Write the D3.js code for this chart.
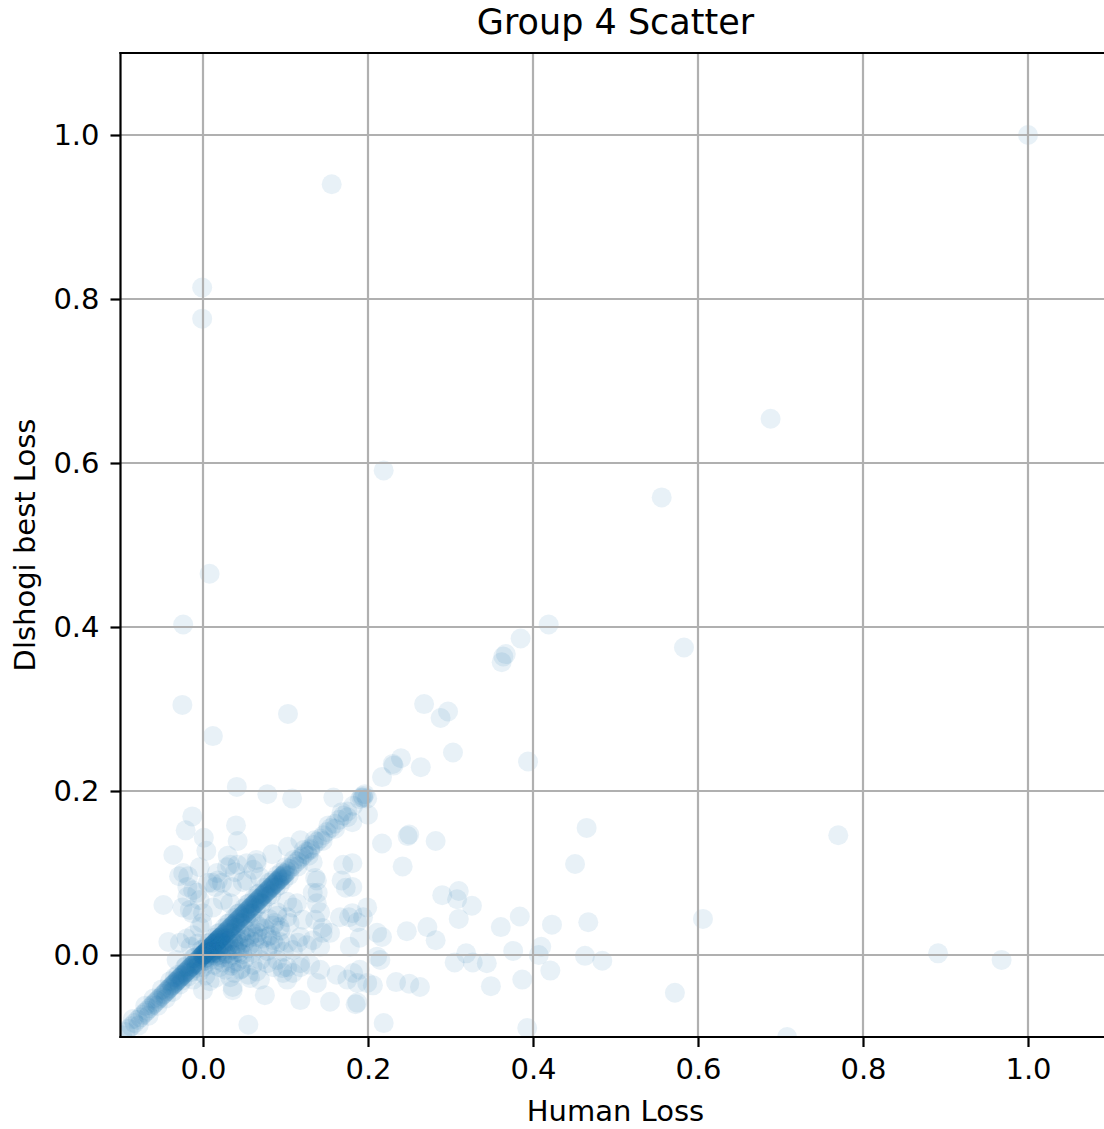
<!DOCTYPE html>
<html>
<head>
<meta charset="utf-8">
<script src="https://cdn.jsdelivr.net/npm/d3@7"></script>
<style>
  body { margin: 0; background: #fff; }
  svg { display: block; }
  text { font-family: "DejaVu Sans", sans-serif; fill: #000; }
</style>
</head>
<body>
<svg id="chart" width="1104" height="1129"></svg>
<script>
// Tick positions shared by both axes
const tickValues = [0.0, 0.2, 0.4, 0.6, 0.8, 1.0];

// Positions where the human loss and the dlshogi best loss are identical
const equalLoss = [
  -0.098, -0.094, -0.09, -0.087, -0.083, -0.079, -0.076, -0.073, -0.07, -0.068,
  -0.065, -0.062, -0.06, -0.058, -0.056, -0.054, -0.052, -0.05, -0.048, -0.047,
  -0.045, -0.044, -0.042, -0.041, -0.04, -0.038, -0.037, -0.036, -0.035, -0.034,
  -0.033, -0.032, -0.031, -0.03, -0.029, -0.028, -0.027, -0.026, -0.025, -0.024,
  -0.023, -0.022, -0.021, -0.02, -0.019, -0.018, -0.017, -0.016, -0.015, -0.014,
  -0.013, -0.012, -0.011, -0.01, -0.009, -0.008, -0.007, -0.006, -0.005, -0.004,
  -0.003, -0.002, -0.001, 0, 0, 0, 0, 0, 0.001, 0.001,
  0.002, 0.002, 0.003, 0.003, 0.004, 0.004, 0.005, 0.005, 0.006, 0.006,
  0.007, 0.007, 0.008, 0.008, 0.009, 0.009, 0.01, 0.01, 0.011, 0.011,
  0.012, 0.012, 0.013, 0.013, 0.014, 0.014, 0.015, 0.015, 0.016, 0.016,
  0.017, 0.017, 0.018, 0.018, 0.019, 0.019, 0.02, 0.02, 0.021, 0.021,
  0.022, 0.022, 0.023, 0.024, 0.025, 0.026, 0.027, 0.028, 0.029, 0.03,
  0.031, 0.032, 0.033, 0.034, 0.035, 0.036, 0.037, 0.038, 0.039, 0.04,
  0.041, 0.042, 0.043, 0.044, 0.045, 0.046, 0.047, 0.048, 0.049, 0.05,
  0.051, 0.052, 0.053, 0.054, 0.055, 0.056, 0.057, 0.058, 0.059, 0.06,
  0.061, 0.062, 0.063, 0.064, 0.065, 0.066, 0.067, 0.068, 0.069, 0.07,
  0.071, 0.072, 0.073, 0.074, 0.075, 0.076, 0.077, 0.078, 0.079, 0.08,
  0.081, 0.082, 0.083, 0.084, 0.085, 0.086, 0.087, 0.088, 0.089, 0.09,
  0.091, 0.092, 0.093, 0.094, 0.095, 0.096, 0.097, 0.098, 0.099, 0.1,
  0.102, 0.105, 0.108, 0.111, 0.114, 0.117, 0.12, 0.123, 0.126, 0.13,
  0.134, 0.138, 0.142, 0.146, 0.15, 0.155, 0.16, 0.165, 0.17, 0.175,
  0.182, 0.19, 0.192, 0.194, 0.196, 0.217, 0.231, 0.24, 0.297, 0.364, 0.367
];

// [human loss, dlshogi best loss] just off the equal-loss line
const nearDiagonal = [
  [-0.03, -0.024], [-0.025, -0.031], [-0.02, -0.013], [-0.015, -0.021], [-0.01, -0.003],
  [-0.005, -0.012], [0.0, 0.007], [0.004, -0.003], [0.008, 0.015], [0.01, 0.003],
  [0.014, 0.021], [0.016, 0.009], [0.02, 0.027], [0.022, 0.015], [0.026, 0.033],
  [0.028, 0.02], [0.032, 0.039], [0.034, 0.027], [0.038, 0.045], [0.04, 0.033],
  [0.044, 0.051], [0.046, 0.039], [0.05, 0.057], [0.052, 0.045], [0.056, 0.063],
  [0.058, 0.051], [0.062, 0.069], [0.064, 0.057], [0.068, 0.075], [0.07, 0.063],
  [0.075, 0.082], [0.078, 0.071], [0.085, 0.091], [0.088, 0.082], [0.095, 0.101],
  [0.098, 0.092], [0.168, 0.174], [0.175, 0.168], [0.199, 0.191], [0.194, 0.192],
  [0.23, 0.233], [0.288, 0.289], [0.362, 0.357],
  [-0.06, -0.053], [-0.055, -0.062], [-0.05, -0.042], [-0.045, -0.053], [-0.04, -0.032],
  [-0.037, -0.045], [-0.034, -0.027], [-0.028, -0.036], [-0.022, -0.015], [-0.018, -0.026],
  [-0.012, -0.004], [-0.008, -0.016], [-0.002, 0.006], [0.002, -0.007], [0.006, 0.014],
  [0.012, 0.002], [0.018, 0.026], [0.024, 0.014], [0.03, 0.038], [0.036, 0.026],
  [0.042, 0.05], [0.048, 0.038], [0.054, 0.062], [0.06, 0.05], [0.066, 0.074],
  [0.072, 0.062], [0.08, 0.088], [0.083, 0.074], [0.09, 0.097], [0.093, 0.085],
  [0.1, 0.107], [0.104, 0.097], [0.11, 0.116], [0.115, 0.108], [0.122, 0.128],
  [0.128, 0.121], [0.135, 0.14], [0.145, 0.139], [0.152, 0.158], [0.16, 0.154],
  [-0.085, -0.078], [-0.078, -0.086], [-0.07, -0.062], [-0.066, -0.074]
];

// Dense group just right of and below the origin
const originCluster = [
  [0.005, 0.001], [0.008, 0.003], [0.01, 0.0], [0.012, 0.005], [0.014, 0.002],
  [0.016, 0.007], [0.018, 0.003], [0.02, 0.009], [0.021, 0.0], [0.023, 0.012],
  [0.025, 0.005], [0.026, 0.014], [0.028, 0.002], [0.03, 0.01], [0.031, 0.017],
  [0.033, 0.006], [0.035, 0.02], [0.036, 0.0], [0.038, 0.013], [0.04, 0.022],
  [0.041, 0.004], [0.043, 0.017], [0.045, 0.009], [0.046, 0.026], [0.048, 0.001],
  [0.05, 0.015], [0.052, 0.03], [0.054, 0.008], [0.056, 0.021], [0.058, 0.034],
  [0.06, 0.003], [0.062, 0.016], [0.064, 0.038], [0.066, 0.027], [0.068, 0.009],
  [0.07, 0.041], [0.072, 0.02], [0.075, 0.032], [0.078, 0.005], [0.08, 0.044],
  [0.082, 0.024], [0.085, 0.036], [0.088, 0.012], [0.09, 0.048], [0.094, 0.03],
  [0.098, 0.004],
  [0.002, -0.004], [0.006, -0.008], [0.01, -0.005], [0.013, -0.012], [0.017, -0.006],
  [0.02, -0.015], [0.024, -0.009], [0.027, -0.018], [0.031, -0.004], [0.034, -0.013],
  [0.038, -0.022], [0.042, -0.008], [0.046, -0.017], [0.05, -0.005], [0.055, -0.024],
  [0.06, -0.012], [0.065, -0.02], [0.07, -0.006], [0.0, -0.015], [-0.004, -0.02],
  [0.003, -0.025], [-0.008, -0.012], [0.008, -0.032], [0.015, -0.028],
  [-0.032, -0.006], [-0.02, 0.02], [-0.012, 0.024], [-0.006, 0.014], [-0.015, 0.01],
  [0.004, 0.002], [0.007, 0.001], [0.011, 0.004], [0.015, 0.006], [0.019, 0.008],
  [0.022, 0.006], [0.027, 0.011], [0.032, 0.012], [0.037, 0.016], [0.042, 0.014],
  [0.047, 0.019], [0.052, 0.022], [0.057, 0.013], [0.061, 0.026], [0.009, -0.002],
  [0.016, -0.001], [0.023, -0.003], [0.029, 0.001], [0.039, 0.007], [0.044, 0.003]
];

// Individually visible positions around the main group
const spreadPoints = [
  [0.041, 0.205], [-0.013, 0.169], [-0.021, 0.152], [0.001, 0.143], [0.04, 0.158],
  [0.042, 0.139], [-0.036, 0.122], [0.004, 0.127], [0.03, 0.121], [-0.029, 0.096],
  [-0.018, 0.096], [-0.004, 0.107], [-0.048, 0.061], [0.065, 0.116], [0.065, 0.112],
  [0.084, 0.123], [0.103, 0.132], [0.118, 0.14], [0.033, 0.11], [0.039, 0.101],
  [0.018, 0.091], [0.048, 0.089], [0.078, 0.196], [0.108, 0.191], [0.158, 0.192],
  [-0.042, 0.016], [-0.028, 0.015], [-0.025, 0.058], [-0.013, 0.051], [-0.001, 0.039],
  [-0.019, 0.083], [-0.007, 0.076], [0.006, 0.088], [0.015, 0.083], [0.023, 0.088],
  [0.035, 0.083], [-0.024, 0.1], [-0.012, 0.079], [-0.019, 0.071], [-0.004, 0.067],
  [-0.016, 0.055], [0.011, 0.088], [0.017, 0.1], [0.029, 0.107], [0.042, 0.11],
  [0.053, 0.112], [0.061, 0.104], [0.069, 0.095], [0.053, 0.091], [0.012, 0.058],
  [0.0, 0.051], [-0.004, 0.034], [0.024, 0.067], [0.033, 0.063],
  [-0.012, -0.03], [0.0, -0.043], [0.036, -0.039], [0.036, -0.043], [0.075, -0.049],
  [0.118, -0.055], [0.154, -0.057], [0.185, -0.06], [0.055, -0.085], [0.097, -0.022],
  [0.138, -0.034],
  [0.13, 0.128], [0.133, 0.113], [0.17, 0.11], [0.168, 0.091], [0.136, 0.094],
  [0.181, 0.162], [0.2, 0.171], [0.181, 0.112], [0.181, 0.083], [0.173, 0.082],
  [0.138, 0.091], [0.133, 0.076], [0.139, 0.076], [0.138, 0.063], [0.142, 0.052],
  [0.136, 0.043], [0.145, 0.027], [0.102, 0.065], [0.109, 0.058], [0.102, 0.046],
  [0.114, 0.063], [0.09, 0.052], [0.087, 0.039], [0.105, 0.039], [0.121, 0.043],
  [0.093, 0.034], [0.085, 0.018], [0.078, 0.022], [0.118, 0.022], [0.109, 0.006],
  [0.145, 0.033], [0.154, 0.027], [0.133, 0.018], [0.142, 0.01], [0.166, 0.046],
  [0.181, 0.051], [0.187, 0.04], [0.178, 0.01], [0.19, 0.021], [0.211, 0.027],
  [0.199, 0.058], [0.194, 0.046], [0.177, 0.046], [0.115, 0.015], [0.126, 0.012],
  [0.081, 0.012], [0.093, 0.016], [0.103, 0.015], [0.069, 0.034], [0.065, 0.022],
  [0.211, -0.002], [0.215, -0.006], [0.19, -0.018], [0.182, -0.022], [0.175, -0.03],
  [0.162, -0.024], [0.187, -0.034], [0.199, -0.034], [0.142, -0.018], [0.13, -0.012],
  [0.118, -0.01], [0.109, -0.022], [0.102, -0.03], [0.096, -0.016], [0.085, -0.015],
  [0.078, -0.01], [0.069, -0.03], [0.057, -0.028], [0.045, -0.018], [0.036, -0.01],
  [0.033, -0.027], [0.09, -0.006], [0.102, -0.015], [0.118, -0.015], [0.206, -0.037],
  [0.187, -0.058], [0.219, -0.083]
];

// Positions far from the main group
const outliers = [
  [0.217, 0.136], [0.248, 0.145], [0.25, 0.147], [0.282, 0.139], [0.242, 0.108],
  [0.465, 0.155], [0.451, 0.111], [0.29, 0.073], [0.31, 0.078], [0.308, 0.068],
  [0.326, 0.06], [0.31, 0.044], [0.217, 0.022], [0.247, 0.029], [0.272, 0.034],
  [0.282, 0.018], [0.361, 0.034], [0.384, 0.047], [0.423, 0.037], [0.467, 0.04],
  [0.606, 0.044], [0.376, 0.005], [0.41, 0.01], [0.407, 0.0], [0.421, -0.019],
  [0.463, -0.001], [0.484, -0.007], [0.572, -0.046], [0.319, 0.002], [0.305, -0.009],
  [0.327, -0.009], [0.344, -0.01], [0.387, -0.03], [0.349, -0.038], [0.234, -0.033],
  [0.25, -0.035], [0.263, -0.039], [0.393, -0.089], [0.77, 0.146], [0.891, 0.002],
  [0.968, -0.006], [0.708, -0.1],
  [0.264, 0.229], [0.268, 0.306], [0.303, 0.247], [0.394, 0.236], [0.012, 0.267],
  [0.103, 0.294], [-0.025, 0.305], [-0.024, 0.403], [0.008, 0.465], [0.419, 0.403],
  [0.385, 0.386], [0.583, 0.375], [0.556, 0.558], [0.219, 0.591], [0.688, 0.654],
  [-0.001, 0.776], [-0.001, 0.814], [0.156, 0.94], [1.0, 1.0]
];

const points = [
  ...equalLoss.map(v => [v, v]),
  ...nearDiagonal,
  ...originCluster,
  ...spreadPoints,
  ...outliers
];

const svg = d3.select("#chart");
const plotLeft = 120.5, plotRight = 1110.5, plotTop = 53, plotBottom = 1037;

const x = d3.scaleLinear().domain([-0.1, 1.1]).range([plotLeft, plotRight]);
const y = d3.scaleLinear().domain([-0.1, 1.1]).range([plotBottom, plotTop]);

svg.append("defs").append("clipPath").attr("id", "plot-clip")
  .append("rect")
  .attr("x", plotLeft).attr("y", plotTop)
  .attr("width", plotRight - plotLeft).attr("height", plotBottom - plotTop);

// Scatter markers
svg.append("g")
  .attr("clip-path", "url(#plot-clip)")
  .selectAll("circle")
  .data(points)
  .join("circle")
  .attr("cx", d => x(d[0]))
  .attr("cy", d => y(d[1]))
  .attr("r", 10)
  .attr("fill", "#1f77b4")
  .attr("fill-opacity", 0.1);

// Grid lines (drawn over the markers)
const grid = svg.append("g").attr("stroke", "#b0b0b0").attr("stroke-width", 2.2);
grid.selectAll("line.vx").data(tickValues).join("line")
  .attr("class", "vx")
  .attr("x1", d => x(d)).attr("x2", d => x(d))
  .attr("y1", plotTop).attr("y2", plotBottom);
grid.selectAll("line.hy").data(tickValues).join("line")
  .attr("class", "hy")
  .attr("x1", plotLeft).attr("x2", plotRight)
  .attr("y1", d => y(d)).attr("y2", d => y(d));

// Axes
const fmt = d3.format(".1f");
const xAxis = svg.append("g")
  .attr("transform", `translate(0,${plotBottom})`)
  .call(d3.axisBottom(x).tickValues(tickValues).tickFormat(fmt)
    .tickSizeInner(10).tickSizeOuter(0).tickPadding(11));
const yAxis = svg.append("g")
  .attr("transform", `translate(${plotLeft},0)`)
  .call(d3.axisLeft(y).tickValues(tickValues).tickFormat(fmt)
    .tickSizeInner(10).tickSizeOuter(0).tickPadding(11));

[xAxis, yAxis].forEach(g => {
  g.select(".domain").remove();
  g.selectAll(".tick line").attr("stroke", "#000").attr("stroke-width", 2.2);
  g.selectAll(".tick text")
    .attr("font-family", "DejaVu Sans, sans-serif")
    .attr("font-size", 29)
    .attr("fill", "#000");
});

// Spines
const spines = svg.append("g").attr("stroke", "#000").attr("stroke-width", 2.2)
  .attr("stroke-linecap", "square");
spines.append("line").attr("x1", plotLeft).attr("x2", plotLeft).attr("y1", plotTop).attr("y2", plotBottom);
spines.append("line").attr("x1", plotLeft).attr("x2", plotRight).attr("y1", plotBottom).attr("y2", plotBottom);
spines.append("line").attr("x1", plotLeft).attr("x2", plotRight).attr("y1", plotTop).attr("y2", plotTop);
spines.append("line").attr("x1", plotRight).attr("x2", plotRight).attr("y1", plotTop).attr("y2", plotBottom);

// Labels
const midX = (plotLeft + plotRight) / 2;
svg.append("text")
  .attr("x", midX).attr("y", 34)
  .attr("text-anchor", "middle")
  .attr("font-size", 35)
  .text("Group 4 Scatter");

svg.append("text")
  .attr("x", midX).attr("y", 1121)
  .attr("text-anchor", "middle")
  .attr("font-size", 29)
  .text("Human Loss");

svg.append("text")
  .attr("transform", `translate(35,${(plotTop + plotBottom) / 2}) rotate(-90)`)
  .attr("text-anchor", "middle")
  .attr("font-size", 29)
  .text("Dlshogi best Loss");
</script>
</body>
</html>
